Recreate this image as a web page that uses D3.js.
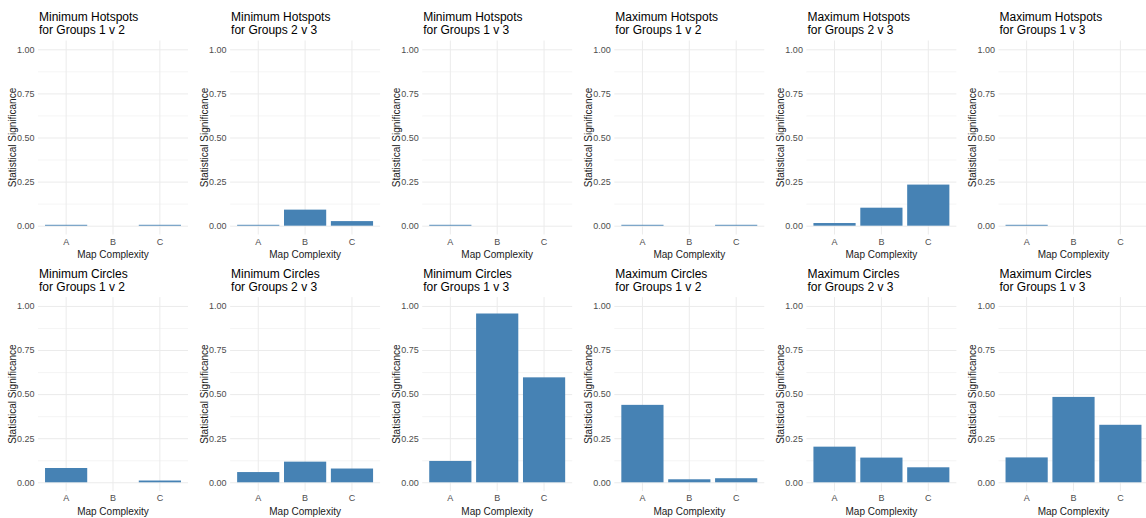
<!DOCTYPE html>
<html>
<head>
<meta charset="utf-8">
<script src="https://cdn.jsdelivr.net/npm/d3@7"></script>
<style>
  html, body { margin: 0; padding: 0; background: #ffffff; }
  svg { display: block; font-family: "Liberation Sans", Arial, sans-serif; }
</style>
</head>
<body>
<svg id="chart" width="1146" height="518"></svg>
<script>
// Map complexity levels on the x axis
const complexity = ["A", "B", "C"];

// Panel titles, left to right, top to bottom
const panelTitles = [
  ["Minimum Hotspots", "for Groups 1 v 2"],
  ["Minimum Hotspots", "for Groups 2 v 3"],
  ["Minimum Hotspots", "for Groups 1 v 3"],
  ["Maximum Hotspots", "for Groups 1 v 2"],
  ["Maximum Hotspots", "for Groups 2 v 3"],
  ["Maximum Hotspots", "for Groups 1 v 3"],
  ["Minimum Circles", "for Groups 1 v 2"],
  ["Minimum Circles", "for Groups 2 v 3"],
  ["Minimum Circles", "for Groups 1 v 3"],
  ["Maximum Circles", "for Groups 1 v 2"],
  ["Maximum Circles", "for Groups 2 v 3"],
  ["Maximum Circles", "for Groups 1 v 3"]
];

// Statistical significance per complexity level (A, B, C)
const minHotspots12 = [0.005, 0.000, 0.005];
const minHotspots23 = [0.005, 0.091, 0.026];
const minHotspots13 = [0.005, 0.000, 0.000];
const maxHotspots12 = [0.005, 0.000, 0.005];
const maxHotspots23 = [0.015, 0.102, 0.233];
const maxHotspots13 = [0.005, 0.000, 0.000];
const minCircles12  = [0.081, 0.000, 0.010];
const minCircles23  = [0.058, 0.117, 0.078];
const minCircles13  = [0.121, 0.957, 0.595];
const maxCircles12  = [0.439, 0.017, 0.023];
const maxCircles23  = [0.202, 0.140, 0.085];
const maxCircles13  = [0.141, 0.484, 0.326];

const panelValues = [
  minHotspots12, minHotspots23, minHotspots13,
  maxHotspots12, maxHotspots23, maxHotspots13,
  minCircles12, minCircles23, minCircles13,
  maxCircles12, maxCircles23, maxCircles13
];

// y axis breaks
const yTicks = [0, 0.25, 0.5, 0.75, 1];
const yMinorTicks = [0.125, 0.375, 0.625, 0.875];

const xTitle = "Map Complexity";
const yTitle = "Statistical Significance";

// Layout of the 6 x 2 grid
const nCols = 6;
const cellW = 192.1, cellH = 256.6;
const plotLeft = 38, plotWidth = 150;
const plotTop = 40.5, plotBottom = 234.5;

const barColor = "steelblue";
const gridMajor = "#ebebeb";
const gridMinor = "#f3f3f3";
const tickColor = "#4d4d4d";

const svg = d3.select("#chart");

const x = d3.scaleBand()
  .domain(complexity)
  .range([0, plotWidth])
  .paddingInner(0.1)
  .paddingOuter(0.15);

const y = d3.scaleLinear()
  .domain([-0.05, 1.05])
  .range([plotBottom - plotTop, 0]);

const innerH = plotBottom - plotTop;

panelValues.forEach((vals, i) => {
  const col = i % nCols, row = Math.floor(i / nCols);
  const cell = svg.append("g")
    .attr("transform", `translate(${col * cellW},${row * cellH})`);

  // Title (two lines)
  const title = cell.append("text")
    .attr("x", plotLeft + 1)
    .attr("y", 21)
    .attr("font-size", 12)
    .attr("fill", "#000");
  panelTitles[i].forEach((line, k) => {
    title.append("tspan")
      .attr("x", plotLeft + 1)
      .attr("dy", k === 0 ? 0 : 13.3)
      .text(line);
  });

  const plot = cell.append("g")
    .attr("transform", `translate(${plotLeft},${plotTop})`);

  // Minor horizontal grid
  plot.append("g")
    .call(d3.axisLeft(y).tickValues(yMinorTicks).tickSize(-plotWidth).tickFormat(""))
    .call(g => g.select(".domain").remove())
    .call(g => g.selectAll("line").attr("stroke", gridMinor).attr("stroke-width", 0.8));

  // Major horizontal grid
  plot.append("g")
    .call(d3.axisLeft(y).tickValues(yTicks).tickSize(-plotWidth).tickFormat(""))
    .call(g => g.select(".domain").remove())
    .call(g => g.selectAll("line").attr("stroke", gridMajor).attr("stroke-width", 1));

  // Vertical grid at each category
  plot.append("g")
    .attr("transform", `translate(0,${innerH})`)
    .call(d3.axisBottom(x).tickSize(-innerH).tickFormat(""))
    .call(g => g.select(".domain").remove())
    .call(g => g.selectAll("line").attr("stroke", gridMajor).attr("stroke-width", 1));

  // Bars
  plot.append("g")
    .selectAll("rect")
    .data(complexity.map((c, k) => ({ c, v: vals[k] })).filter(d => d.v > 0))
    .join("rect")
    .attr("x", d => x(d.c))
    .attr("width", x.bandwidth())
    .attr("y", d => y(d.v))
    .attr("height", d => y(0) - y(d.v))
    .attr("fill", barColor);

  // y tick labels
  plot.append("g")
    .call(d3.axisLeft(y).tickValues(yTicks).tickSize(0).tickPadding(3.5).tickFormat(d3.format(".2f")))
    .call(g => g.select(".domain").remove())
    .call(g => g.selectAll("text")
      .attr("font-size", 9)
      .attr("fill", tickColor)
      .attr("font-family", "Liberation Sans, Arial, sans-serif"));

  // x tick labels
  plot.append("g")
    .attr("transform", `translate(0,${innerH})`)
    .call(d3.axisBottom(x).tickSize(0).tickPadding(4))
    .call(g => g.select(".domain").remove())
    .call(g => g.selectAll("text")
      .attr("font-size", 9)
      .attr("fill", tickColor)
      .attr("font-family", "Liberation Sans, Arial, sans-serif"));

  // Axis titles
  cell.append("text")
    .attr("x", plotLeft + plotWidth / 2)
    .attr("y", 258)
    .attr("text-anchor", "middle")
    .attr("font-size", 10)
    .attr("fill", "#1a1a1a")
    .text(xTitle);

  cell.append("text")
    .attr("transform", `translate(15.6,${(plotTop + plotBottom) / 2}) rotate(-90)`)
    .attr("text-anchor", "middle")
    .attr("font-size", 10)
    .attr("fill", "#1a1a1a")
    .text(yTitle);
});
</script>
</body>
</html>
